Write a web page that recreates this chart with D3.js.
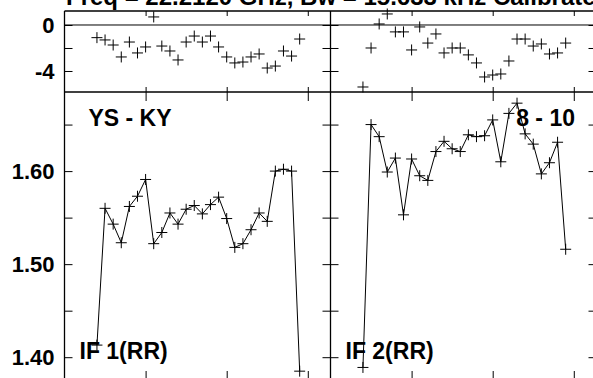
<!DOCTYPE html>
<html><head><meta charset="utf-8">
<script src="https://cdn.jsdelivr.net/npm/d3@7"></script>
<style>
html,body{margin:0;padding:0;background:#fff;overflow:hidden;}
svg{display:block;font-family:"Liberation Sans",Arial,sans-serif;font-weight:bold;}
</style></head>
<body>
<svg id="c" width="593" height="378"></svg>
<script>
// ---- data ----
const title = "Freq = 22.2120 GHz, Bw = 15.633 kHz  Calibrate";
const times = [0.4,0.5,0.6,0.7,0.8,0.9,1.0,1.1,1.2,1.3,1.4,1.5,1.6,1.7,1.8,1.9,2.0,2.1,2.2,2.3,2.4,2.5,2.6,2.7,2.8,2.9];
const baselines = ["YS - KY", "8 - 10"];
const ifLabels = ["IF 1(RR)", "IF 2(RR)"];
const phaseIF1 = [-1.10,-1.30,-1.74,-2.78,-1.48,-2.43,-1.91,0.70,-1.83,-2.26,-3.04,-1.48,-0.96,-1.48,-0.96,-1.91,-2.78,-3.30,-3.22,-2.78,-2.52,-3.74,-3.57,-2.26,-2.70,-1.22];
const phaseIF2 = [-5.39,-2.00,0.09,0.96,-0.60,-0.60,-2.17,-0.17,-1.57,-0.78,-2.43,-2.00,-2.00,-2.60,-3.30,-4.52,-4.35,-4.26,-3.13,-1.22,-1.22,-1.83,-1.65,-2.52,-2.43,-1.57];
const ampIF1 = [1.413,1.560,1.543,1.523,1.562,1.573,1.591,1.522,1.534,1.555,1.543,1.559,1.563,1.554,1.564,1.572,1.549,1.518,1.522,1.537,1.555,1.546,1.600,1.602,1.600,1.385];
const ampIF2 = [1.389,1.650,1.637,1.599,1.614,1.553,1.613,1.595,1.590,1.621,1.632,1.624,1.621,1.639,1.637,1.638,1.655,1.610,1.662,1.673,1.640,1.629,1.597,1.609,1.631,1.516];
const xTicks = [1,2,3];
const phaseTicks = [-4,-2,0];
const phaseLabels = [0,-4];
const ampTicks = [1.40,1.45,1.50,1.55,1.60,1.65];
const ampLabels = [1.40,1.50,1.60];

// ---- layout ----
const svg = d3.select("#c");
const panelsX = [[64.5,330.5],[330.5,596.5]];
const topY = [92,11], botY = [380,92];
const yPhase = d3.scaleLinear().domain([-5.826,1.217]).range(topY);
const yAmp = d3.scaleLinear().domain([1.3755,1.685]).range(botY);

const phases = [phaseIF1, phaseIF2], amps = [ampIF1, ampIF2];

svg.append("text").attr("x",66).attr("y",5).attr("font-size",24).text(title);

function cross(g, pts){
  g.selectAll("path.cr").data(pts).join("path").attr("class","cr")
    .attr("d", d=>`M${d[0]-5.5},${d[1]}h11M${d[0]},${d[1]-5.5}v11`)
    .attr("stroke","#000").attr("stroke-width",1).attr("fill","none");
}
function clean(g){ g.select(".domain").remove(); g.selectAll("line").attr("stroke","#000").attr("stroke-width",1); }

panelsX.forEach((rx,i)=>{
  const x = d3.scaleLinear().domain([0,3.28]).range(rx);
  let g;
  g = svg.append("g").attr("transform",`translate(0,${topY[1]})`).call(d3.axisBottom(x).tickValues(xTicks).tickSize(5).tickFormat("")); clean(g);
  g = svg.append("g").attr("transform",`translate(0,${topY[0]})`).call(d3.axisTop(x).tickValues(xTicks).tickSize(5).tickFormat("")); clean(g);
  g = svg.append("g").attr("transform",`translate(0,${botY[1]})`).call(d3.axisBottom(x).tickValues(xTicks).tickSize(9).tickFormat("")); clean(g);
  g = svg.append("g").attr("transform",`translate(0,${botY[0]})`).call(d3.axisTop(x).tickValues(xTicks).tickSize(9).tickFormat("")); clean(g);
  g = svg.append("g").attr("transform",`translate(${rx[0]},0)`).call(d3.axisRight(yPhase).tickValues(phaseTicks).tickSize(8).tickFormat("")); clean(g);
  g = svg.append("g").attr("transform",`translate(${rx[1]},0)`).call(d3.axisLeft(yPhase).tickValues(phaseTicks).tickSize(8).tickFormat("")); clean(g);
  g = svg.append("g").attr("transform",`translate(${rx[0]},0)`).call(d3.axisRight(yAmp).tickValues(ampTicks).tickSize(8).tickFormat("")); clean(g);
  g = svg.append("g").attr("transform",`translate(${rx[1]},0)`).call(d3.axisLeft(yAmp).tickValues(ampTicks).tickSize(8).tickFormat("")); clean(g);

  svg.append("line").attr("x1",rx[0]).attr("x2",rx[1]).attr("y1",yPhase(0)).attr("y2",yPhase(0)).attr("stroke","#000").attr("stroke-width",1);

  const gp = svg.append("g");
  cross(gp, times.map((t,k)=>[x(t), yPhase(phases[i][k])]));
  const ga = svg.append("g");
  ga.append("path").datum(times.map((t,k)=>[x(t), yAmp(amps[i][k])]))
    .attr("d", d3.line()).attr("fill","none").attr("stroke","#000").attr("stroke-width",1);
  cross(ga, times.map((t,k)=>[x(t), yAmp(amps[i][k])]));

  if(i===0){
    svg.append("text").attr("x",rx[0]+24).attr("y",126).attr("font-size",23).text(baselines[0]);
  } else {
    svg.append("text").attr("x",575).attr("y",126).attr("font-size",23).attr("text-anchor","end").text(baselines[1]);
  }
  svg.append("text").attr("x",rx[0]+15).attr("y",359).attr("font-size",23).text(ifLabels[i]);
});

const frame = svg.append("g").attr("fill","none").attr("stroke","#000").attr("stroke-width",1.3);
[[64.5,596.5,topY[1]],[64.5,596.5,topY[0]],[64.5,596.5,botY[0]]].forEach(d=>frame.append("line").attr("x1",d[0]).attr("x2",d[1]).attr("y1",d[2]).attr("y2",d[2]));
[64.5,330.5].forEach(xx=>frame.append("line").attr("x1",xx).attr("x2",xx).attr("y1",topY[1]).attr("y2",botY[0]));

function styleLabels(g){
  g.select(".domain").remove();
  g.selectAll("text").attr("font-size",22).attr("font-family","Liberation Sans, Arial, sans-serif").attr("font-weight","bold").attr("fill","#000");
}
const gl = svg.append("g").attr("transform","translate(64.5,0)")
  .call(d3.axisLeft(yPhase).tickValues(phaseLabels).tickSize(0).tickPadding(10).tickFormat(d=>String(d)));
styleLabels(gl);
const gl2 = svg.append("g").attr("transform","translate(64.5,0)")
  .call(d3.axisLeft(yAmp).tickValues(ampLabels).tickSize(0).tickPadding(10).tickFormat(d=>d.toFixed(2)));
styleLabels(gl2);
</script>
</body></html>
